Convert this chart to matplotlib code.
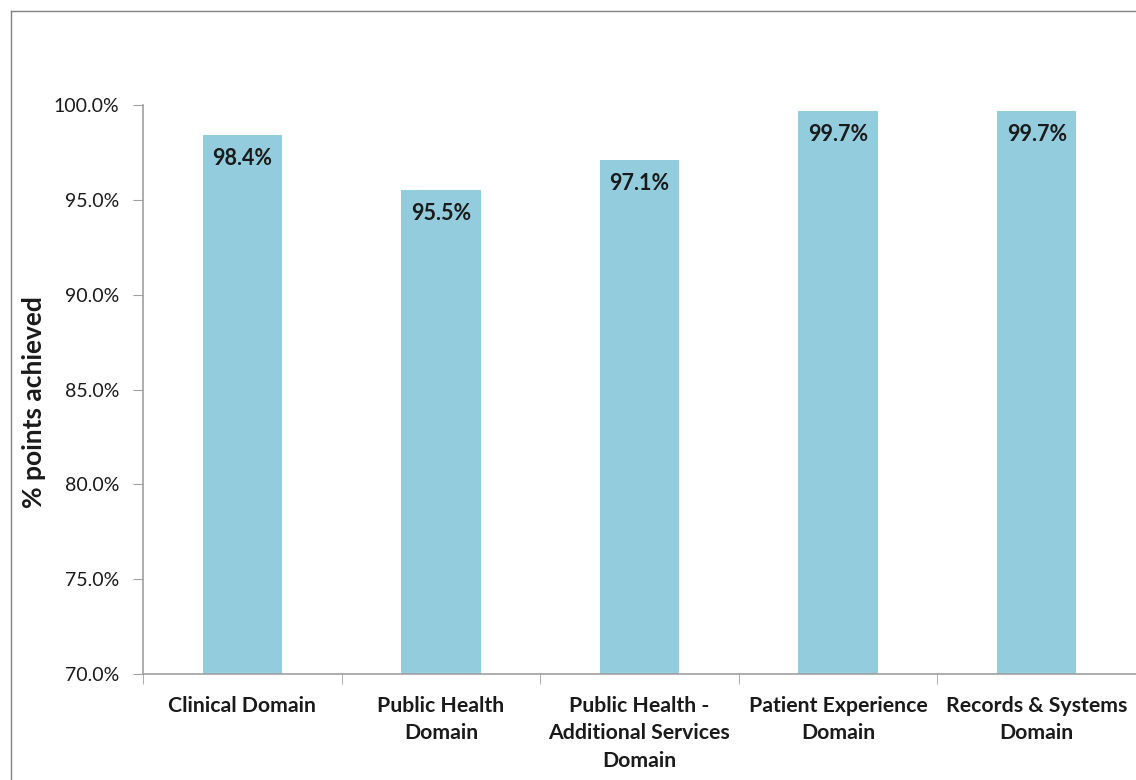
import matplotlib.pyplot as plt
from matplotlib.ticker import FuncFormatter, FixedLocator
from matplotlib.lines import Line2D

plt.rcParams['font.family'] = ['Lato', 'DejaVu Sans']

categories = ["Clinical Domain", "Public Health\nDomain",
              "Public Health -\nAdditional Services\nDomain",
              "Patient Experience\nDomain", "Records & Systems\nDomain"]
values = [98.4, 95.5, 97.1, 99.7, 99.7]
value_labels = ["98.4%", "95.5%", "97.1%", "99.7%", "99.7%"]
yticks = [70, 75, 80, 85, 90, 95, 100]

fig = plt.figure(figsize=(11.36, 7.8), dpi=100)
ax = fig.add_axes([143 / 1136, 1 - 674 / 780, 993 / 1136, 569 / 780])

x = list(range(len(categories)))
bars = ax.bar(x, values, width=0.4, color="#93CDDD", zorder=2)

for b, lab in zip(bars, value_labels):
    ax.annotate(lab, (b.get_x() + b.get_width() / 2, b.get_height()),
                xytext=(0, -17), textcoords="offset points",
                ha="center", va="center", fontsize=15.5, fontweight="bold",
                color="#1a1a1a")

ax.set_ylim(70, 100)
ax.set_xlim(-0.5, len(categories) - 0.5)
ax.set_yticks(yticks)
ax.yaxis.set_major_formatter(FuncFormatter(lambda v, p: f"{v:.1f}%"))
ax.tick_params(axis="y", labelsize=14, length=7, color="#A0A0A0",
               labelcolor="#1a1a1a", pad=10)

ax.set_xticks(x)
ax.set_xticklabels(categories, fontsize=15.3, fontweight="bold",
                   color="#1a1a1a", linespacing=1.45, va="top")
ax.tick_params(axis="x", length=0, pad=16)
ax.xaxis.set_minor_locator(FixedLocator([i - 0.5 for i in range(len(categories) + 1)]))
ax.tick_params(axis="x", which="minor", length=7, color="#A0A0A0", direction="out")

for s in ["top", "right"]:
    ax.spines[s].set_visible(False)
for s in ["left", "bottom"]:
    ax.spines[s].set_color("#A0A0A0")
    ax.spines[s].set_linewidth(1.2)

ax.set_ylabel("% points achieved", fontsize=19, fontweight="bold",
              color="#1a1a1a")
ax.yaxis.set_label_coords(-0.098, 0.478)

# chart area border (left and top edges visible)
fig.add_artist(Line2D([11 / 1136, 11 / 1136], [0, 1 - 11 / 780],
                      color="#808080", lw=1, transform=fig.transFigure))
fig.add_artist(Line2D([11 / 1136, 1], [1 - 11 / 780, 1 - 11 / 780],
                      color="#808080", lw=1, transform=fig.transFigure))

fig.savefig("out.png", dpi=100)
